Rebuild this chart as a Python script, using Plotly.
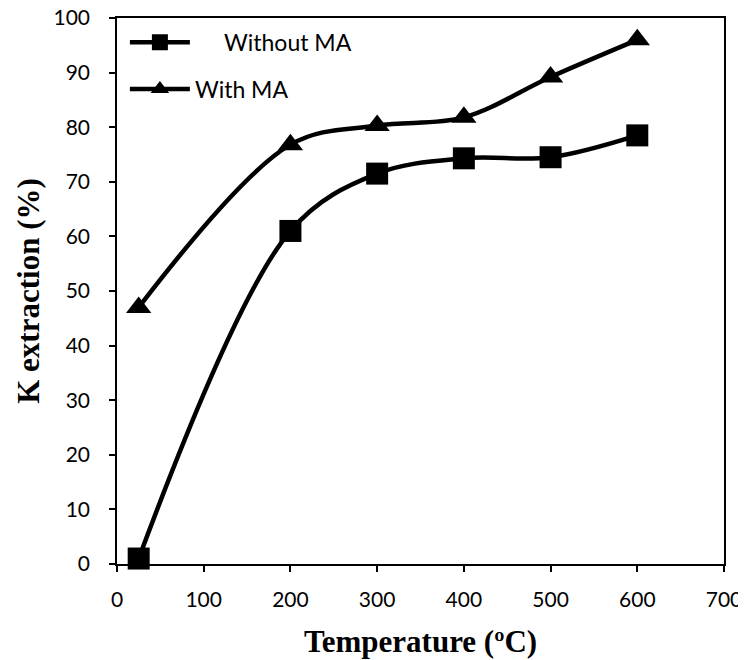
import plotly.graph_objects as go

temperature = [25, 200, 300, 400, 500, 600]
without_ma = [1, 61, 71.5, 74.3, 74.5, 78.5]
with_ma = [47, 76.8, 80.3, 81.8, 89.2, 96]
x_ticks = [0, 100, 200, 300, 400, 500, 600, 700]
y_ticks = [0, 10, 20, 30, 40, 50, 60, 70, 80, 90, 100]

fig = go.Figure()
fig.add_trace(go.Scatter(
    x=temperature, y=without_ma, name="     Without MA", mode="lines+markers",
    line=dict(color="black", width=4.5, shape="spline", smoothing=1),
    marker=dict(symbol="square", size=22, color="black"),
    legendgroup="a", cliponaxis=False,
))
fig.add_trace(go.Scatter(
    x=temperature, y=with_ma, name="With MA", mode="lines+markers",
    line=dict(color="black", width=4.5, shape="spline", smoothing=1),
    marker=dict(symbol="triangle-up", size=22, color="black"),
    legendgroup="b", cliponaxis=False,
))

axis_common = dict(
    showline=True, linecolor="black", linewidth=1.5, mirror=True,
    ticks="outside", ticklen=6, tickcolor="black", tickwidth=1.5,
    showgrid=False, zeroline=False, automargin=False,
    ticklabeloverflow="allow",
    tickfont=dict(family="Lato", size=21, color="black"),
)

fig.update_layout(
    width=746, height=660,
    margin=dict(l=109, r=30, t=10, b=104, autoexpand=False),
    paper_bgcolor="white", plot_bgcolor="white",
    xaxis=dict(range=[0, 700], tickvals=x_ticks, ticklabelstandoff=10,
               title=dict(text="<b>Temperature (ºC)</b>",
                          font=dict(family="Liberation Serif", size=31, color="black"),
                          standoff=20),
               **axis_common),
    yaxis=dict(range=[0, 100], tickvals=y_ticks, ticklabelstandoff=15,
               title=dict(text="<b>K extraction (%)</b>",
                          font=dict(family="Liberation Serif", size=31, color="black"),
                          standoff=5),
               **axis_common),
    legend=dict(x=0.013, y=0.995, xanchor="left", yanchor="top",
                font=dict(family="Lato", size=23, color="black"),
                bgcolor="rgba(0,0,0,0)", tracegroupgap=14, traceorder="grouped",
                itemwidth=60),
    showlegend=True,
)

fig.write_html("out.html")
